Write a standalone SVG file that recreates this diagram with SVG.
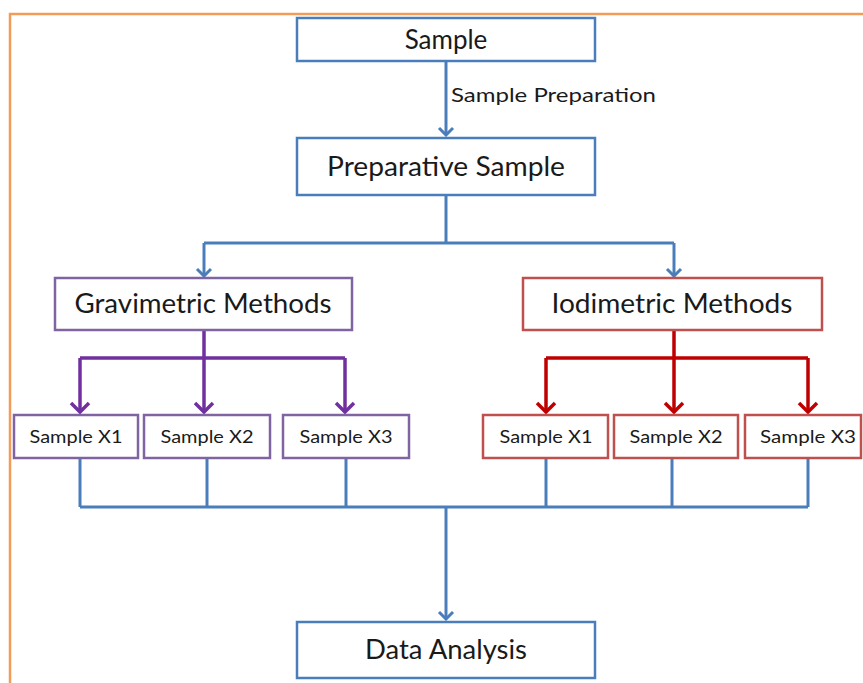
<svg xmlns="http://www.w3.org/2000/svg" width="863" height="683" viewBox="0 0 863 683">
<defs>
<style>
.frame{fill:none;stroke:#F39C5A;stroke-width:2.5}
.bbox{fill:#fff;stroke:#4A7EBB;stroke-width:2.5}
.pbox{fill:#fff;stroke:#8064A2;stroke-width:2.5}
.rbox{fill:#fff;stroke:#C0504D;stroke-width:2.5}
.bl{fill:none;stroke:#4A7EBB;stroke-width:3}
.pl{fill:none;stroke:#7030A0;stroke-width:3.5}
.rl{fill:none;stroke:#C00000;stroke-width:3.5}
text{font-family:Lato,"Liberation Sans",sans-serif;fill:#1a1a1a;text-anchor:middle}
.big{font-size:26px}
.mid{font-size:20px;text-anchor:start}
.small{font-size:18px}
</style>
<marker id="ab" viewBox="0 0 20 20" refX="10" refY="18" markerWidth="20" markerHeight="20" markerUnits="userSpaceOnUse">
<path d="M3,11 L10,18 L17,11" fill="none" stroke="#4A7EBB" stroke-width="3"/>
</marker>
<marker id="ap" viewBox="0 0 24 24" refX="12" refY="21" markerWidth="24" markerHeight="24" markerUnits="userSpaceOnUse">
<path d="M3,12 L12,21 L21,12" fill="none" stroke="#7030A0" stroke-width="3.5"/>
</marker>
<marker id="ar" viewBox="0 0 24 24" refX="12" refY="21" markerWidth="24" markerHeight="24" markerUnits="userSpaceOnUse">
<path d="M3,12 L12,21 L21,12" fill="none" stroke="#C00000" stroke-width="3.5"/>
</marker>
</defs>
<rect width="863" height="683" fill="#fff"/>
<rect class="frame" x="10" y="14" width="900" height="720"/>
<g id="connectors">
<path class="bl" d="M446,61 V135" marker-end="url(#ab)"/>
<path class="bl" d="M446,195 V243 M204,243 H674"/>
<path class="bl" d="M204,243 V276" marker-end="url(#ab)"/>
<path class="bl" d="M674,243 V276" marker-end="url(#ab)"/>
<path class="pl" d="M204,330 V358 M80,358 H345"/>
<path class="pl" d="M80,358 V412" marker-end="url(#ap)"/>
<path class="pl" d="M204,358 V412" marker-end="url(#ap)"/>
<path class="pl" d="M345,358 V412" marker-end="url(#ap)"/>
<path class="rl" d="M674,330 V358 M546,358 H808"/>
<path class="rl" d="M546,358 V412" marker-end="url(#ar)"/>
<path class="rl" d="M674,358 V412" marker-end="url(#ar)"/>
<path class="rl" d="M808,358 V412" marker-end="url(#ar)"/>
<path class="bl" d="M80,458 V507 M207,458 V507 M346,458 V507 M546,458 V507 M672,458 V507 M808,458 V507 M80,507 H808"/>
<path class="bl" d="M446,507 V619" marker-end="url(#ab)"/>
<text class="mid" x="451" y="102" textLength="205" lengthAdjust="spacingAndGlyphs">Sample Preparation</text>
</g>
<g id="sample"><rect class="bbox" x="297" y="18" width="298" height="43"/><text class="big" x="446" y="49">Sample</text></g>
<g id="preparative"><rect class="bbox" x="297" y="138" width="298" height="57"/><text class="big" x="446" y="176" textLength="238" lengthAdjust="spacingAndGlyphs">Preparative Sample</text></g>
<g id="gravimetric"><rect class="pbox" x="55" y="278" width="297" height="52"/><text class="big" x="203" y="313" textLength="257" lengthAdjust="spacingAndGlyphs">Gravimetric Methods</text></g>
<g id="iodimetric"><rect class="rbox" x="523" y="278" width="299" height="52"/><text class="big" x="672" y="313" textLength="241" lengthAdjust="spacingAndGlyphs">Iodimetric Methods</text></g>
<g id="g1"><rect class="pbox" x="14" y="415" width="124" height="43"/><text class="small" x="76" y="443" textLength="93" lengthAdjust="spacingAndGlyphs">Sample X1</text></g>
<g id="g2"><rect class="pbox" x="144" y="415" width="126" height="43"/><text class="small" x="207" y="443" textLength="93" lengthAdjust="spacingAndGlyphs">Sample X2</text></g>
<g id="g3"><rect class="pbox" x="283" y="415" width="126" height="43"/><text class="small" x="346" y="443" textLength="93" lengthAdjust="spacingAndGlyphs">Sample X3</text></g>
<g id="i1"><rect class="rbox" x="483" y="415" width="125" height="43"/><text class="small" x="546" y="443" textLength="93" lengthAdjust="spacingAndGlyphs">Sample X1</text></g>
<g id="i2"><rect class="rbox" x="614" y="415" width="124" height="43"/><text class="small" x="676" y="443" textLength="93" lengthAdjust="spacingAndGlyphs">Sample X2</text></g>
<g id="i3"><rect class="rbox" x="745" y="415" width="116" height="43"/><text class="small" x="808" y="443" textLength="96" lengthAdjust="spacingAndGlyphs">Sample X3</text></g>
<g id="data"><rect class="bbox" x="297" y="622" width="298" height="56"/><text class="big" x="446" y="659" textLength="162" lengthAdjust="spacingAndGlyphs">Data Analysis</text></g>
</svg>
